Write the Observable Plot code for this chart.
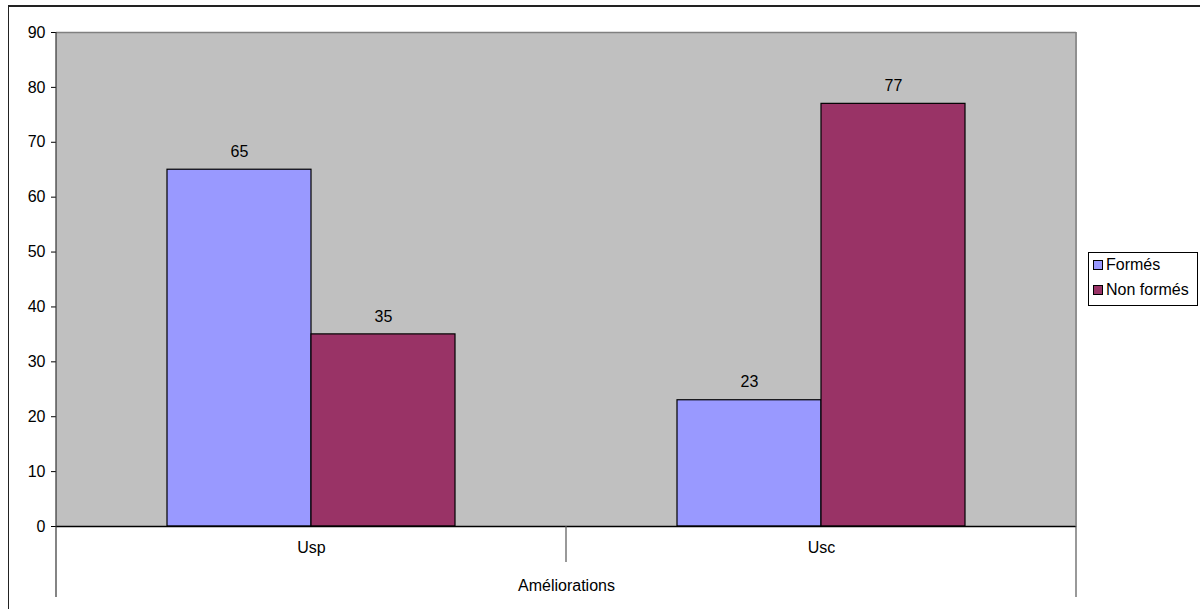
<!DOCTYPE html>
<html>
<head>
<meta charset="utf-8">
<script src="https://cdn.jsdelivr.net/npm/d3@7"></script>
<script src="https://cdn.jsdelivr.net/npm/@observablehq/plot@0.6"></script>
<style>
  html, body { margin: 0; padding: 0; background: #fff; }
  #wrap { position: relative; width: 1200px; height: 609px; overflow: hidden; font-family: "Liberation Sans", Arial, sans-serif; }
  #border { position: absolute; left: 8px; top: 5px; width: 1200px; height: 700px; border-top: 2px solid #222; border-left: 1.5px solid #222; pointer-events: none; }
  #legend { position: absolute; left: 1088px; top: 252px; width: 108px; height: 52px; border: 1px solid #000; background: #fff; font-size: 16px; color: #000; }
  .item { position: absolute; left: 4px; display: flex; align-items: center; }
  .sw { width: 8px; height: 8px; border: 1px solid #000; margin-right: 3px; }
  svg text { font-size: 16px; }
</style>
</head>
<body>
<div id="wrap">
  <div id="chart"></div>
  <div id="border"></div>
  <div id="legend"></div>
</div>
<script>
const categories = ["Usp", "Usc"];
const series = ["Formés", "Non formés"];
const formes = [65, 23];
const nonFormes = [35, 77];
const yTicks = [0, 10, 20, 30, 40, 50, 60, 70, 80, 90];
const colors = ["#9999FF", "#993366"];
const axisTitle = "Améliorations";

const data = [];
categories.forEach((c, i) => {
  data.push({cat: c, series: series[0], value: formes[i]});
  data.push({cat: c, series: series[1], value: nonFormes[i]});
});

const plot = Plot.plot({
  width: 1200,
  height: 609,
  marginLeft: 55,
  marginRight: 124,
  marginTop: 32,
  marginBottom: 83,
  style: {fontFamily: "Liberation Sans, Arial, sans-serif", fontSize: "16px", color: "#000", background: "transparent"},
  fx: {domain: categories, padding: 0, label: axisTitle, labelAnchor: "center", tickSize: 0, tickPadding: 15, labelOffset: 64, axis: "bottom"},
  x: {domain: series, paddingInner: 0, paddingOuter: 0.76, axis: null},
  y: {domain: [0, 90], ticks: yTicks, tickSize: 5, tickPadding: 6, label: null},
  color: {domain: series, range: colors},
  marks: [
    Plot.frame({fill: "#c0c0c0", stroke: "#c0c0c0", strokeWidth: 1}),
    Plot.ruleY([90], {stroke: "#808080", strokeWidth: 1.5}),
    Plot.barY(data, {fx: "cat", x: "series", y: "value", fill: "series", stroke: "#000", strokeWidth: 1.2}),
    Plot.text(data, {fx: "cat", x: "series", y: "value", text: d => String(d.value), dy: -18, fontSize: 16, fill: "#000"}),
    Plot.ruleY([0], {stroke: "#000", strokeWidth: 1.5})
  ]
});
document.getElementById("chart").appendChild(plot);

// structural lines positioned through the plot's own scales
const fx = plot.scale("fx");
const y = plot.scale("y");
const svg = d3.select(plot);
const left = fx.apply(categories[0]);
const mid = fx.apply(categories[1]);
const right = mid + fx.bandwidth;
const y0 = y.apply(0), y90 = y.apply(90);
const g = svg.append("g");
g.append("line").attr("x1", left).attr("x2", left).attr("y1", y90).attr("y2", y0 + 71).attr("stroke", "#333").attr("stroke-width", 1.2);
g.append("line").attr("x1", right).attr("x2", right).attr("y1", y90).attr("y2", y0).attr("stroke", "#808080").attr("stroke-width", 1.5);
g.append("line").attr("x1", right).attr("x2", right).attr("y1", y0).attr("y2", y0 + 71).attr("stroke", "#555").attr("stroke-width", 1.2);
g.append("line").attr("x1", mid).attr("x2", mid).attr("y1", y0).attr("y2", y0 + 36).attr("stroke", "#555").attr("stroke-width", 1.2);

// legend
const legend = document.getElementById("legend");
series.forEach((s, i) => {
  const item = document.createElement("div");
  item.className = "item";
  item.style.top = (i === 0 ? 3 : 28) + "px";
  const sw = document.createElement("div");
  sw.className = "sw";
  sw.style.background = colors[i];
  const t = document.createElement("span");
  t.textContent = s;
  item.appendChild(sw); item.appendChild(t);
  legend.appendChild(item);
});
</script>
</body>
</html>
